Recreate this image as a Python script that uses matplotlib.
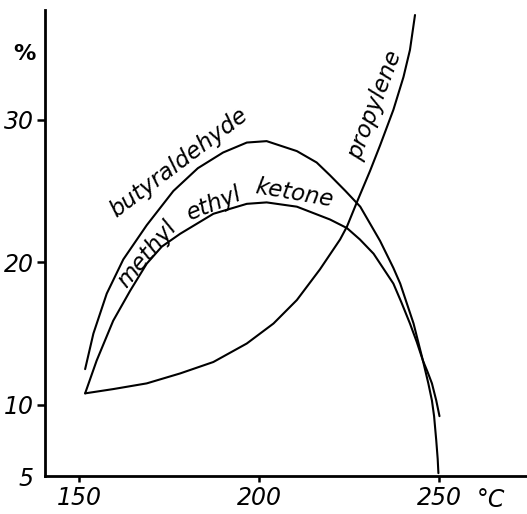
import matplotlib
matplotlib.use("Agg")
import matplotlib.pyplot as plt

# values (temperature in deg C, yield in %)
butyr_t = [151.7, 154.0, 157.7, 162.3, 168.8, 176.2, 183.0, 190.0, 196.6, 202.1,
           210.5, 216.0, 219.7, 224.0, 228.1, 233.6, 237.3, 239.2, 242.9, 244.3,
           245.5, 247.0, 248.0, 248.6, 249.2, 249.6, 249.8]
butyr_y = [12.5, 15.0, 17.8, 20.2, 22.6, 25.0, 26.6, 27.7, 28.4, 28.5,
           27.8, 27.0, 26.1, 25.0, 23.9, 21.5, 19.6, 18.5, 15.7, 14.3,
           13.1, 11.5, 10.3, 9.2, 7.5, 6.2, 5.2]

mek_t = [151.7, 154.9, 159.5, 164.2, 168.8, 173.0, 178.1, 187.3, 196.6, 202.1,
         210.5, 219.7, 224.4, 228.0, 231.8, 237.3, 239.5, 241.9, 243.8, 245.5,
         246.8, 248.0, 249.2, 250.1]
mek_y = [10.8, 13.1, 15.9, 18.0, 19.9, 21.1, 22.0, 23.4, 24.1, 24.2,
         23.9, 23.0, 22.4, 21.6, 20.6, 18.5, 17.2, 15.7, 14.4, 13.1,
         12.3, 11.5, 10.3, 9.2]

prop_t = [151.7, 159.5, 168.8, 178.1, 187.3, 196.6, 204.0, 210.5, 216.9, 222.5,
          224.4, 227.3, 230.8, 233.6, 237.3, 240.1, 241.9, 243.3]
prop_y = [10.8, 11.1, 11.5, 12.2, 13.0, 14.3, 15.7, 17.35, 19.5, 21.6,
          22.5, 24.3, 26.4, 28.2, 30.7, 33.0, 34.9, 37.35]

x_ticks = [150, 200, 250]
y_ticks = [5, 10, 20, 30]

fig = plt.figure(figsize=(5.27, 5.14), dpi=100)
ax = fig.add_axes([0.0854, 0.0739, 0.9146, 0.9066])

for t, y in [(butyr_t, butyr_y), (mek_t, mek_y), (prop_t, prop_y)]:
    ax.plot(t, y, color='black', lw=1.5, solid_joinstyle='round',
            solid_capstyle='round')

ax.set_xlim(140.56, 274.4)
ax.set_ylim(5, 37.7)

for s in ['top', 'right']:
    ax.spines[s].set_visible(False)
for s in ['left', 'bottom']:
    ax.spines[s].set_linewidth(2)

ax.set_xticks(x_ticks)
ax.set_yticks(y_ticks)
ax.set_xticklabels([str(v) for v in x_ticks], fontsize=17, fontstyle='italic')
ax.set_yticklabels([str(v) for v in y_ticks], fontsize=17, fontstyle='italic')
ax.tick_params(axis='x', direction='out', length=4.5, width=1.8, pad=3)
ax.tick_params(axis='y', direction='out', length=6, width=1.8, pad=2)
ax.yaxis.get_major_ticks()[0].tick1line.set_visible(False)

# curve labels
lbl = dict(fontsize=16.5, fontstyle='italic', ha='center', va='center',
           rotation_mode='anchor')
ax.text(177.6, 27.0, 'butyraldehyde', rotation=37, **lbl)
ax.text(168.9, 20.6, 'methyl', rotation=50, **lbl)
ax.text(187.6, 24.1, 'ethyl', rotation=22, **lbl)
ax.text(209.7, 24.8, 'ketone', rotation=-10, **lbl)
ax.text(232.1, 31.0, 'propylene', rotation=69, **lbl)

fig.text(0.0455, 0.895, '%', fontsize=16, fontweight='bold', ha='center', va='center')
fig.text(0.932, 0.027, '°C', fontsize=17, fontstyle='italic', ha='center', va='center')

fig.savefig('out.png', dpi=100)
